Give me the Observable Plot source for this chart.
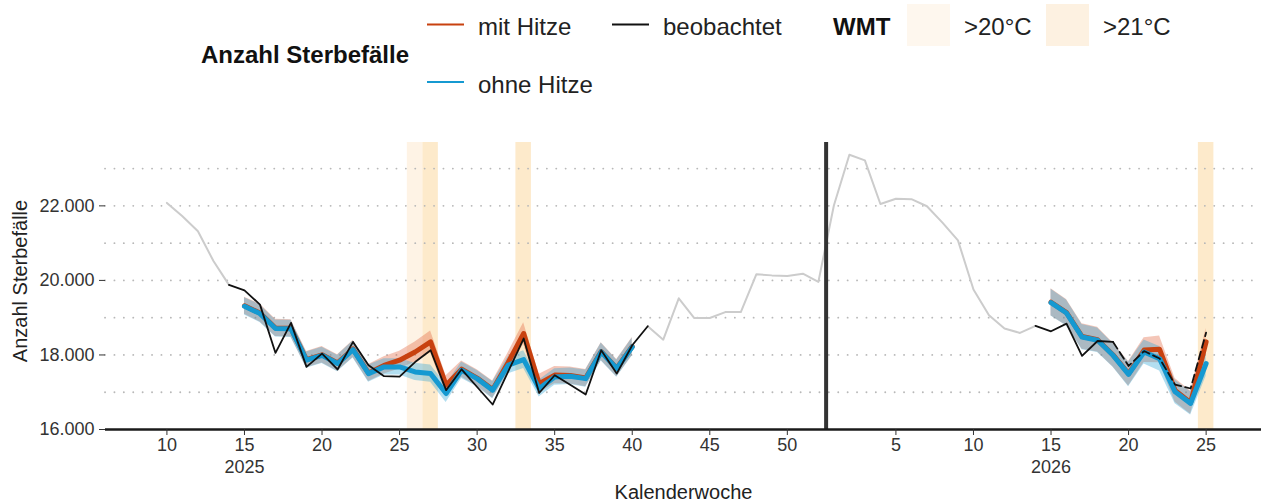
<!DOCTYPE html>
<html>
<head>
<meta charset="utf-8">
<script src="https://cdn.jsdelivr.net/npm/d3@7"></script>
<script src="https://cdn.jsdelivr.net/npm/@observablehq/plot@0.6"></script>
<style>
  body { margin: 0; background: #fff; }
  #wrap { position: relative; width: 1261px; height: 502px; font-family: "Liberation Sans", Arial, sans-serif; }
  #wrap > svg { position: absolute; left: 0; top: 0; }
</style>
</head>
<body>
<div id="wrap"></div>
<script>
// ---- Data ----
// observed deaths, 2025 KW 10..52 and 2026 KW 1..25
const beob2025Wochen = d3.range(10, 53);
const beob2025 = [22080,21720,21320,20520,19880,19735,19350,18055,18860,17680,
  18035,17610,18350,17725,17430,17420,17810,18125,17055,17615,
  17140,16670,17555,18440,16980,17455,17200,16940,18125,17500,
  18260,18770,18410,19520,18990,18990,19150,19150,20165,20135,
  20120,20180,19960];
const beob2026Wochen = d3.range(1, 26);
const beob2026 = [22010,23370,23220,22050,22190,22180,21990,21550,21075,19755,
  19065,18710,18590,18780,18635,18840,17975,18375,18350,17705,
  18105,17905,17205,17100,18600];

// model estimates, 2025 KW 15..40 and 2026 KW 15..25
const modell2025Wochen = d3.range(15, 41);
const ohneHitze2025 = [19305,19110,18710,18700,17860,17990,17770,18145,17500,17680,
  17680,17545,17500,16965,17590,17365,17055,17725,17875,17100,
  17410,17430,17365,18080,17635,18215];
const mitHitze2025 = [19320,19125,18725,18715,17875,18005,17785,18160,17515,17720,
  17860,18080,18350,17190,17620,17380,17070,17800,18575,17230,
  17460,17450,17380,18090,17645,18225];
const ohneSpanne2025 = [230,240,230,230,220,220,220,230,230,220,
  220,230,230,240,220,220,230,230,240,230,
  220,220,230,240,230,240];
const mitSpanne2025 = [230,240,230,230,220,220,220,230,230,230,
  240,270,290,250,220,220,230,260,290,250,
  230,230,230,240,230,240];

const modell2026Wochen = d3.range(15, 26);
const ohneHitze2026 = [19405,19125,18480,18395,17990,17480,18080,17900,17010,16700,17770];
const mitHitze2026  = [19415,19135,18495,18410,18000,17495,18130,18150,17050,16720,18350];
const ohneSpanne2026 = [360,350,340,330,320,330,320,330,320,310,340];
const mitSpanne2026  = [360,350,340,330,320,330,330,360,320,310,360];

// heat weeks (WMT)
const wmt20 = [{jahr: 2025, kw: 26}];                                   // >20°C
const wmt21 = [{jahr: 2025, kw: 27}, {jahr: 2025, kw: 33}, {jahr: 2026, kw: 25}]; // >21°C

// axis ticks
const yTicks = [16000, 18000, 20000, 22000];
const gridWerte = [17000, 18000, 19000, 20000, 21000, 22000, 23000];
const xTicks2025 = [10, 15, 20, 25, 30, 35, 40, 45, 50];
const xTicks2026 = [5, 10, 15, 20, 25];
const jahresLabels = [{jahr: "2025", kw: 15, j: 2025}, {jahr: "2026", kw: 15, j: 2026}];

// ---- helpers ----
const T = (jahr, kw) => jahr === 2025 ? kw : 52 + kw;

const obs = [
  ...beob2025.map((v, i) => ({t: T(2025, beob2025Wochen[i]), v})),
  ...beob2026.map((v, i) => ({t: T(2026, beob2026Wochen[i]), v}))
];
const modell = [
  ...modell2025Wochen.map((w, i) => ({jahr: 2025, t: T(2025, w), ohne: ohneHitze2025[i], mit: mitHitze2025[i],
     ohneLo: ohneHitze2025[i] - ohneSpanne2025[i], ohneHi: ohneHitze2025[i] + ohneSpanne2025[i],
     mitLo: mitHitze2025[i] - mitSpanne2025[i], mitHi: mitHitze2025[i] + mitSpanne2025[i]})),
  ...modell2026Wochen.map((w, i) => ({jahr: 2026, t: T(2026, w), ohne: ohneHitze2026[i], mit: mitHitze2026[i],
     ohneLo: ohneHitze2026[i] - ohneSpanne2026[i], ohneHi: ohneHitze2026[i] + ohneSpanne2026[i],
     mitLo: mitHitze2026[i] - mitSpanne2026[i], mitHi: mitHitze2026[i] + mitSpanne2026[i]}))
];

const grau1 = obs.filter(d => d.t <= 14);
const grau2 = obs.filter(d => d.t >= 41 && d.t <= 66);
const schwarz1 = obs.filter(d => d.t >= 14 && d.t <= 41);
const schwarz2 = obs.filter(d => d.t >= 66 && d.t <= 71);
const schwarz3 = obs.filter(d => d.t >= 71);

const bands20 = wmt20.map(d => ({t: T(d.jahr, d.kw)}));
const bands21 = wmt21.map(d => ({t: T(d.jahr, d.kw)}));

const xTicksT = [...xTicks2025.map(w => T(2025, w)), ...xTicks2026.map(w => T(2026, w))];
const fmtDE = d => d3.format(",")(d).replace(/,/g, ".");

const ORANGE = "#c8410f";
const BLAU = "#1599d1";
const FONT = "'Liberation Sans', Arial, sans-serif";

const chart = Plot.plot({
  width: 1261,
  height: 502,
  marginLeft: 105,
  marginRight: 0,
  marginTop: 142,
  marginBottom: 73,
  style: {fontFamily: FONT, background: "transparent", color: "#222"},
  x: {domain: [6.04, 80.57], axis: null},
  y: {domain: [16000, 23700], axis: null},
  marks: [
    Plot.rect(bands20, {x1: d => d.t - 0.5, x2: d => d.t + 0.5, fill: "#fef3e5"}),
    Plot.rect(bands21, {x1: d => d.t - 0.5, x2: d => d.t + 0.5, fill: "#fdeacb"}),
    Plot.ruleY(gridWerte, {stroke: "#b8b8b8", strokeWidth: 1.8, strokeDasharray: "0.1,9.3", strokeLinecap: "round"}),
    Plot.areaY(modell, {x: "t", y1: "mitLo", y2: "mitHi", z: "jahr", fill: "#e0603a", fillOpacity: 0.36}),
    Plot.areaY(modell, {x: "t", y1: "ohneLo", y2: "ohneHi", z: "jahr", fill: "#2aa3d6", fillOpacity: 0.36}),
    Plot.line(grau1, {x: "t", y: "v", stroke: "#cccccc", strokeWidth: 2}),
    Plot.line(grau2, {x: "t", y: "v", stroke: "#cccccc", strokeWidth: 2}),
    Plot.ruleX([52.5], {stroke: "#333", strokeWidth: 4}),
    Plot.line(modell, {x: "t", y: "mit", z: "jahr", stroke: ORANGE, strokeWidth: 5}),
    Plot.line(modell, {x: "t", y: "ohne", z: "jahr", stroke: BLAU, strokeWidth: 5}),
    Plot.line(schwarz1, {x: "t", y: "v", stroke: "#111", strokeWidth: 1.8}),
    Plot.line(schwarz2, {x: "t", y: "v", stroke: "#111", strokeWidth: 1.8}),
    Plot.line(schwarz3, {x: "t", y: "v", stroke: "#111", strokeWidth: 1.8, strokeDasharray: "8,4"}),
    Plot.ruleY([16000], {stroke: "#1a1a1a", strokeWidth: 2.5}),
    Plot.axisY({ticks: yTicks, tickFormat: fmtDE, tickSize: 6, tickPadding: 5, fontSize: 18, label: null, color: "#333"}),
    Plot.axisX({ticks: xTicksT, tickFormat: t => t > 52 ? t - 52 : t, tickSize: 6, tickPadding: 3, fontSize: 18, label: null, color: "#333"}),
    Plot.text(jahresLabels, {x: d => T(d.j, d.kw), text: "jahr", frameAnchor: "bottom", dy: 38, fontSize: 18, fill: "#333", lineAnchor: "middle"}),
    Plot.text(["Kalenderwoche"], {frameAnchor: "bottom", dy: 63, fontSize: 20, fill: "#222", lineAnchor: "middle", textAnchor: "middle"}),
    Plot.text(["Anzahl Sterbefälle"], {frameAnchor: "left", dx: -85, dy: -5, rotate: -90, fontSize: 20, fill: "#222", textAnchor: "middle", lineAnchor: "middle"})
  ]
});

const wrap = document.getElementById("wrap");
wrap.appendChild(chart);

// ---- legend (above the plot area) ----
const legendItems = {
  titel: "Anzahl Sterbefälle",
  linien: [
    {label: "mit Hitze", color: ORANGE, x: 427, y: 24.5},
    {label: "beobachtet", color: "#111", x: 612, y: 24.5},
    {label: "ohne Hitze", color: BLAU, x: 427, y: 82}
  ],
  wmtTitel: "WMT",
  boxen: [
    {label: ">20°C", fill: "#fef7ee", x: 907},
    {label: ">21°C", fill: "#fdf1e1", x: 1046}
  ]
};
const ns = "http://www.w3.org/2000/svg";
const leg = document.createElementNS(ns, "svg");
leg.setAttribute("width", 1261);
leg.setAttribute("height", 110);
leg.style.fontFamily = FONT;
function el(tag, attrs, text) {
  const e = document.createElementNS(ns, tag);
  for (const k in attrs) e.setAttribute(k, attrs[k]);
  if (text != null) e.textContent = text;
  leg.appendChild(e);
  return e;
}
el("text", {x: 201, y: 63, "font-size": 24, "font-weight": "bold", fill: "#111"}, legendItems.titel);
for (const l of legendItems.linien) {
  el("line", {x1: l.x, x2: l.x + 37, y1: l.y, y2: l.y, stroke: l.color, "stroke-width": 2});
  el("text", {x: l.x + 51, y: l.y + 10.5, "font-size": 24, fill: "#222"}, l.label);
}
el("text", {x: 833, y: 35, "font-size": 24, "font-weight": "bold", fill: "#111"}, legendItems.wmtTitel);
for (const b of legendItems.boxen) {
  el("rect", {x: b.x, y: 4, width: 43, height: 42, fill: b.fill});
  el("text", {x: b.x + 57, y: 35, "font-size": 24, fill: "#222"}, b.label);
}
wrap.appendChild(leg);
</script>
</body>
</html>
